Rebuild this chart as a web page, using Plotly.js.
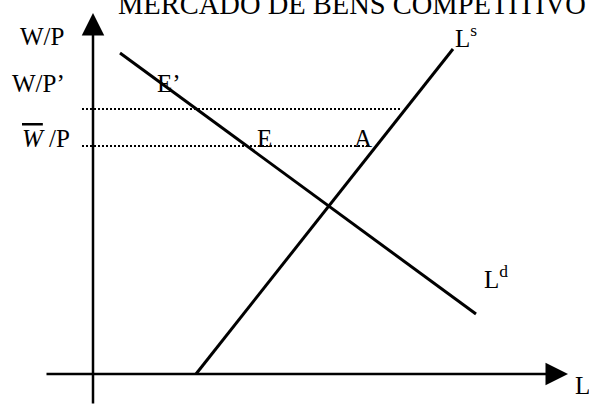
<!DOCTYPE html>
<html>
<head>
<meta charset="utf-8">
<script src="https://cdn.plot.ly/plotly-3.0.1.min.js"></script>
<style>html,body{margin:0;padding:0;background:#fff;}</style>
</head>
<body>
<div id="chart" style="width:589px;height:405px;"></div>
<script>
// Coordinates: origin at the intersection of the two axes
const titleText = "MERCADO DE BENS COMPETITIVO";

// Labour supply curve L^s
const supplyX = [103, 360];
const supplyY = [0, 325];
// Labour demand curve L^d
const demandX = [27, 383];
const demandY = [321, 60];

// Real-wage levels (dotted guides)
const wageHighX = [-11, 309];
const wageHighY = [265, 265];
const wageLowX = [-11, 277];
const wageLowY = [228, 228];

// Axes (tail -> head)
const yAxisTail = [0, -31], yAxisHead = [0, 361];
const xAxisTail = [-48, 0], xAxisHead = [475, 0];

// Text labels
const labelText = ["W/P", "W/P’", "<span style=\"text-decoration:overline\"><i>W</i></span> /P",
                   "E’", "E", "A", "L<sup>s</sup>", "L<sup>d</sup>", "L"];
const labelX = [-75, -83, -73, 62, 162, 259, 360, 389, 480];
const labelY = [338, 291, 236, 291, 236, 236, 338, 97, -11];

const FONT = "Liberation Serif, Times New Roman, serif";

const lineStyle = {color: "#000", width: 3};
const dotStyle = {color: "#000", width: 2, dash: "2px,2px"};

const traces = [
  {x: supplyX, y: supplyY, mode: "lines", line: lineStyle, hoverinfo: "skip"},
  {x: demandX, y: demandY, mode: "lines", line: lineStyle, hoverinfo: "skip"},
  {x: wageHighX, y: wageHighY, mode: "lines", line: dotStyle, hoverinfo: "skip"},
  {x: wageLowX, y: wageLowY, mode: "lines", line: dotStyle, hoverinfo: "skip"}
];

const annotations = labelText.map((t, i) => ({
  x: labelX[i], y: labelY[i], xref: "x", yref: "y", text: t, showarrow: false,
  xanchor: "left", yanchor: "middle", font: {family: FONT, size: 25, color: "#000"}
}));

function axisArrow(tail, head) {
  return {x: head[0], y: head[1], ax: tail[0], ay: tail[1], xref: "x", yref: "y",
    axref: "x", ayref: "y", text: "", showarrow: true, arrowhead: 2, arrowsize: 1.8,
    arrowwidth: 2.5, arrowcolor: "#000", standoff: 0, startstandoff: 0};
}
annotations.push(axisArrow(yAxisTail, yAxisHead));
annotations.push(axisArrow(xAxisTail, xAxisHead));

const hidden = {visible: false, fixedrange: true};
const layout = {
  width: 589, height: 405, autosize: false,
  margin: {l: 0, r: 0, t: 0, b: 0, pad: 0},
  paper_bgcolor: "#fff", plot_bgcolor: "#fff",
  showlegend: false,
  title: {text: titleText, font: {family: FONT, size: 28.5, color: "#000"},
          xref: "container", yref: "container", x: 118/589, xanchor: "left",
          y: 0.99, yanchor: "middle"},
  xaxis: Object.assign({range: [-93, 496]}, hidden),
  yaxis: Object.assign({range: [-31, 374]}, hidden),
  annotations: annotations
};

Plotly.newPlot("chart", traces, layout, {displayModeBar: false, staticPlot: true});
</script>
</body>
</html>
